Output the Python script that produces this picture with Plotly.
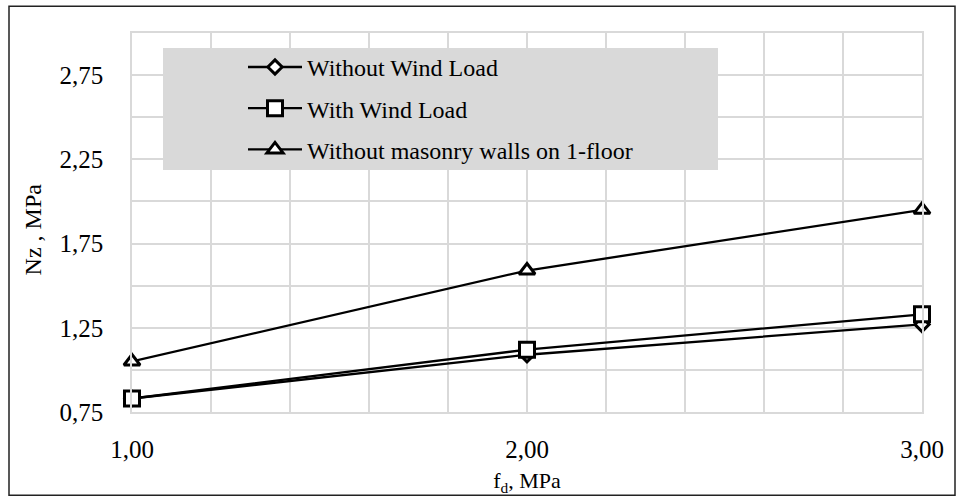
import plotly.graph_objects as go

fd = [1.0, 2.0, 3.0]
without_wind = [0.83, 1.09, 1.27]
with_wind = [0.83, 1.12, 1.33]
without_masonry = [1.05, 1.59, 1.95]
names = ["Without Wind Load", "With Wind Load", "Without masonry walls on 1-floor"]
y_ticks = [0.75, 1.25, 1.75, 2.25, 2.75]
x_ticks = [1.0, 2.0, 3.0]

FONT = "Liberation Serif, Times New Roman, serif"

fig = go.Figure()
series = [
    (without_wind, "diamond", 11, names[0]),
    (with_wind, "square", 15, names[1]),
    (without_masonry, "triangle-up", 14, names[2]),
]
for i, (vals, sym, sz, nm) in enumerate(series):
    fig.add_trace(go.Scatter(
        x=fd, y=vals, name=nm, mode="lines+markers",
        line=dict(color="black", width=2.3),
        marker=dict(symbol=sym, size=sz, color="white",
                    line=dict(color="black", width=3)),
        legendgroup=f"g{i}", cliponaxis=False,
    ))

grid = "#d9d9d9"
fig.update_layout(
    width=957, height=501,
    margin=dict(l=132, r=35, t=33, b=86),
    paper_bgcolor="white", plot_bgcolor="white",
    separators=", ",
    font=dict(family=FONT, color="black", size=24),
    showlegend=True,
    legend=dict(x=(243 - 132) / 790, y=(415 - 45) / 382, xanchor="left", yanchor="top",
                bgcolor="rgba(0,0,0,0)", font=dict(family=FONT, size=24),
                itemwidth=54, tracegroupgap=7),
    xaxis=dict(range=[1.0, 3.0], tickvals=x_ticks, tickformat=".2f",
               showgrid=True, gridcolor=grid, gridwidth=1.5,
               minor=dict(dtick=0.2, tick0=1.0, showgrid=True, gridcolor=grid, gridwidth=1.5),
               showline=True, linecolor=grid, linewidth=1.5, mirror=True,
               zeroline=False, ticks="", ticklabelstandoff=14,
               tickfont=dict(family=FONT, size=25),
               title=dict(text="f<sub>d</sub>, MPa", font=dict(family=FONT, size=22), standoff=11)),
    yaxis=dict(range=[0.75, 3.0], tickvals=y_ticks, tickformat=".2f",
               showgrid=True, gridcolor=grid, gridwidth=1.5,
               minor=dict(dtick=0.25, tick0=0.75, showgrid=True, gridcolor=grid, gridwidth=1.5),
               showline=True, linecolor=grid, linewidth=1.5, mirror=True,
               zeroline=False, ticks="", ticklabelstandoff=22,
               tickfont=dict(family=FONT, size=25)),
    annotations=[
        dict(text="Nz , MPa", textangle=-90, xref="paper", yref="paper",
             x=(33 - 132) / 790, y=(415 - 231) / 382, xanchor="center", yanchor="middle",
             showarrow=False, font=dict(family=FONT, size=24, color="black")),
    ],
    shapes=[
        dict(type="rect", xref="paper", yref="paper",
             x0=(163 - 132) / 790, x1=(718 - 132) / 790,
             y0=(415 - 171) / 382, y1=(415 - 48) / 382,
             fillcolor="#d9d9d9", line=dict(width=0), layer="above"),
        dict(type="rect", xref="paper", yref="paper",
             x0=(9 - 132) / 790, x1=(955 - 132) / 790,
             y0=(415 - 499) / 382, y1=(415 - 6) / 382,
             fillcolor="rgba(0,0,0,0)", line=dict(color="#222", width=1.5), layer="above"),
    ],
)

fig.write_html("out.html", config={"displayModeBar": False},
               post_script="document.body.style.margin='0';document.body.style.overflow='hidden';")
